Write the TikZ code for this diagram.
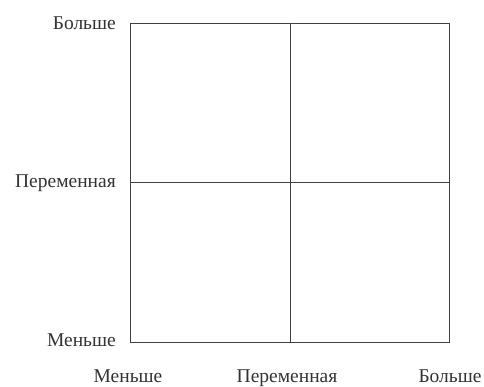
\documentclass[tikz,border=0pt]{standalone}
\usepackage{fontspec}
\setmainfont{Liberation Serif}
\begin{document}
\begin{tikzpicture}[
    x=1pt, y=-1pt,
    axlabel/.style={font=\fontsize{19.5}{22}\selectfont, text=black!80, inner sep=0pt},
    grid/.style={draw=black!75, line width=0.9pt}
]
\useasboundingbox (0,0) rectangle (484,387);

% --- Frame ---
\coordinate (TL) at (130,23);
\coordinate (TR) at (449,23);
\coordinate (BL) at (130,342);
\coordinate (BR) at (449,342);
\coordinate (TM) at (290,23);
\coordinate (BM) at (290,342);
\coordinate (LM) at (130,182);
\coordinate (RM) at (449,182);

\draw[grid] (TL) rectangle (BR);
\draw[grid] (TM) -- (BM);
\draw[grid] (LM) -- (RM);

% --- Left labels ---
\node[axlabel, anchor=base east] (yhi) at (116,30) {Больше};
\node[axlabel, anchor=base east] (ymid) at (116,188) {Переменная};
\node[axlabel, anchor=base east] (ylo) at (116,346) {Меньше};

% --- Bottom labels ---
\node[axlabel, anchor=base] (xlo) at (128,382) {Меньше};
\node[axlabel, anchor=base] (xmid) at (287,382) {Переменная};
\node[axlabel, anchor=base] (xhi) at (450,382) {Больше};

\end{tikzpicture}
\end{document}
